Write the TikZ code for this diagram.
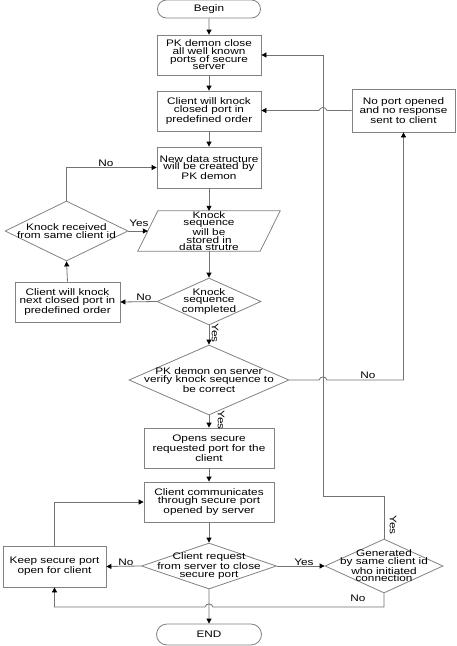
\documentclass[tikz,border=0pt]{standalone}
\usepackage{fontspec}
\setmainfont{Liberation Sans}[FakeStretch=1.24]
\usetikzlibrary{shapes.geometric,shapes.misc,arrows.meta,calc}
\definecolor{shapec}{RGB}{130,130,130}
\definecolor{linec}{RGB}{115,115,115}
\begin{document}
\begin{tikzpicture}[x=1pt,y=-1pt,
  every node/.style={font=\fontsize{9.5}{7.6}\selectfont, align=center, inner sep=0pt},
  box/.style={draw=shapec, line width=0.8pt, rectangle},
  term/.style={draw=shapec, line width=0.8pt, rounded rectangle},
  dia/.style={draw=shapec, line width=0.8pt, diamond},
  conn/.style={draw=linec, line width=0.8pt},
  arr/.style={conn, -{Triangle[length=5pt,width=5pt,black]}},
  lab/.style={font=\fontsize{9.5}{7.6}\selectfont}]
\useasboundingbox (0,0) rectangle (456,646);
\fill[white] (0,0) rectangle (456,646);

% terminals
\node[term, minimum width=103pt, minimum height=18pt] (begin) at (209,9) {Begin};
\node[term, minimum width=105pt, minimum height=21pt] (end) at (209,634.5) {END};

% boxes
\node[box, minimum width=104pt, minimum height=40pt] (b1) at (209,55) {PK demon close\\all well known\\ports of secure\\server};
\node[box, minimum width=104pt, minimum height=40pt] (b2) at (209,111) {Client will knock\\closed port in\\predefined order};
\node[box, minimum width=104pt, minimum height=41pt] (b3) at (209,167.5) {New data structure\\will be created by\\PK demon};
\node[box, minimum width=105pt, minimum height=40pt] (b4) at (67.5,302) {Client will knock\\next closed port in\\predefined order};
\node[box, minimum width=103pt, minimum height=43pt] (b5) at (403.5,110.5) {No port opened\\and no response\\sent to client};
\node[box, minimum width=130pt, minimum height=40pt] (b6) at (209,448) {Opens secure\\requested port for the\\client};
\node[box, minimum width=130pt, minimum height=40pt] (b7) at (209,502) {Client communicates\\through secure port\\opened by server};
\node[box, minimum width=103pt, minimum height=41pt] (b8) at (54.5,566.5) {Keep secure port\\open for client};

% parallelogram
\node[minimum width=142pt, minimum height=40pt] (para) at (209,231) {Knock\\sequence\\will be\\stored in\\data strutre};
\draw[draw=shapec, line width=0.8pt] ($(para.north west)+(20,0)$) -- (para.north east) -- ($(para.south east)+(-20,0)$) -- (para.south west) -- cycle;
\coordinate (paraL) at ($(para.west)+(10,0)$);

% diamonds
\node[dia, minimum width=123pt, minimum height=60pt] (d1) at (66.5,231) {};
\node (d1t) at (d1) {Knock received\\from same client id};
\node[dia, minimum width=104pt, minimum height=47pt] (d2) at (209,301.5) {};
\node (d2t) at (d2) {Knock\\sequence\\completed};
\node[dia, minimum width=160pt, minimum height=70pt] (d3) at (209,380) {};
\node (d3t) at (d3) {PK demon on server\\verify knock sequence to\\be correct};
\node[dia, minimum width=135pt, minimum height=46pt] (d4) at (209,566) {};
\node (d4t) at (d4) {Client request\\from server to close\\secure port};
\node[dia, minimum width=118pt, minimum height=54pt] (d5) at (384,566) {};
\node (d5t) at (d5) {Generated\\by same client id\\who initiated\\connection};

% main vertical flow
\draw[arr] (begin) -- (b1);
\draw[arr] (b1) -- (b2);
\draw[arr] (b2) -- (b3);
\draw[arr] (b3) -- (para);
\draw[arr] (para) -- (d2);
\draw[arr] (d2) -- (d3);
\draw[arr] (d3) -- (b6);
\draw[arr] (b6) -- (b7);
\draw[arr] (b7) -- (d4);
\draw[arr] (d4) -- (end);

% left loop
\draw[arr] (d1.north) |- (b3.west);
\draw[arr] (d1.east) -- (paraL);
\draw[arr] (d2.west) -- (b4.east);
\draw[arr] (b4.north) -- (d1.south);

% bottom
\draw[arr] (d4.west) -- (b8.east);
\draw[arr] (d4.east) -- (d5.west);
\draw[arr] (b8.north) |- (b7.west);

% coordinates for long loops
\coordinate (vtop) at (323,55);
\coordinate (vbot) at (323,496);
\coordinate (h1a) at (327,110.5);
\coordinate (h1b) at (319,110.5);
\coordinate (h2a) at (319,380);
\coordinate (h2b) at (327,380);
\coordinate (h3a) at (213,607);
\coordinate (h3b) at (205,607);

\draw[arr] (d5.north) |- (vbot) -- (vtop) -- (b1.east);
\draw[arr] (b5.west) -- (h1a) .. controls +(-1,-4) and +(1,-4) .. (h1b) -- (b2.east |- b5.west);
\draw[arr] (d3.east) -- (h2a) .. controls +(1,-4) and +(-1,-4) .. (h2b) -| (b5.south);
\draw[arr] (d5.south) |- (h3a) .. controls +(-1,-4) and +(1,-4) .. (h3b) -| (b8.south);

% labels
\node[lab] (l1) at (106,163) {No};
\node[lab] (l2) at (139,223) {Yes};
\node[lab] (l3) at (144,297) {No};
\node[lab, rotate=-90] (l4) at (215,333) {Yes};
\node[lab] (l5) at (368,375) {No};
\node[lab, rotate=-90] (l6) at (221,420) {Yes};
\node[lab] (l7) at (126,562) {No};
\node[lab] (l8) at (304,562) {Yes};
\node[lab] (l9) at (358,598) {No};
\node[lab, rotate=-90] (l10) at (393,525) {Yes};
\end{tikzpicture}
\end{document}
